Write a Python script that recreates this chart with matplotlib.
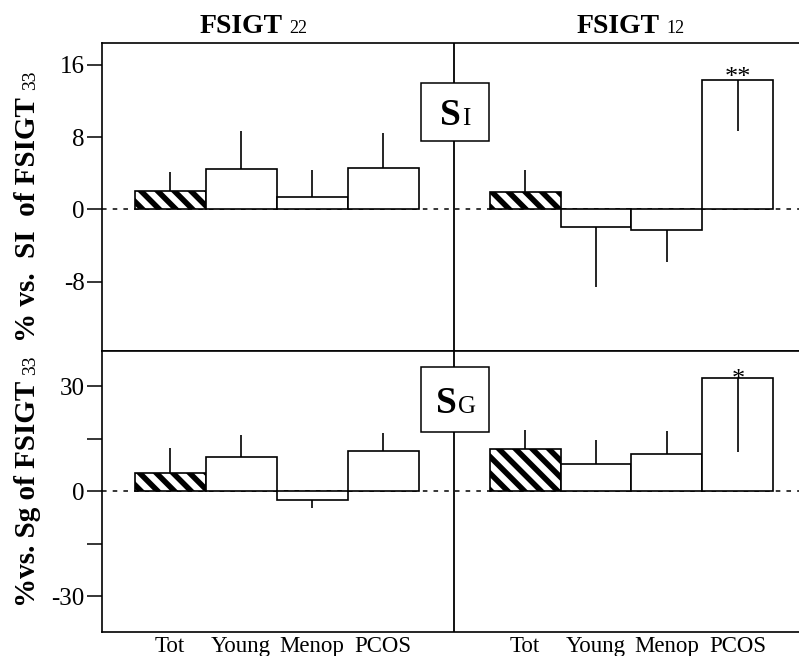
import matplotlib
matplotlib.use("Agg")
import matplotlib.pyplot as plt
from matplotlib.patches import Rectangle
import numpy as np

# ---------------- data ----------------
categories = ["Tot", "Young", "Menop", "PCOS"]
groups = ["FSIGT 22", "FSIGT 12"]

# % vs. SI of FSIGT 33
si_fsigt22 = [2.0, 4.5, 1.4, 4.6]
si_fsigt22_err = [2.1, 4.2, 3.0, 3.9]          # signed: + drawn up, - drawn down
si_fsigt12 = [1.9, -2.0, -2.3, 14.3]
si_fsigt12_err = [2.5, -6.6, -3.5, -5.6]

# % vs. Sg of FSIGT 33
sg_fsigt22 = [5.2, 9.7, -2.6, 11.5]
sg_fsigt22_err = [7.1, 6.3, -2.2, 5.0]
sg_fsigt12 = [12.0, 7.9, 10.7, 32.3]
sg_fsigt12_err = [5.4, 6.8, 6.5, -21.1]

si_signif = ["", "", "", "**"]
sg_signif = ["", "", "", "*"]

si_ticks = [-8, 0, 8, 16]
si_ticklabels = ["-8", "0", "8", "16"]
sg_ticks = [-30, -15, 0, 15, 30]
sg_ticklabels = ["-30", "", "0", "", "30"]

# ---------------- style ----------------
SERIF = "Liberation Serif"
plt.rcParams["font.family"] = SERIF
plt.rcParams["hatch.linewidth"] = 4.0
W, H = 799, 656
fig = plt.figure(figsize=(W / 100, H / 100), dpi=100)
renderer = fig.canvas.get_renderer()


def fx(px):
    return px / W


def fy(py):
    return 1 - py / H


left_px, right_px, top_px, mid_px, bot_px = 102, 799, 43, 350.5, 632
ax_top = fig.add_axes([fx(left_px), fy(mid_px), fx(right_px) - fx(left_px), fy(top_px) - fy(mid_px)])
ax_bot = fig.add_axes([fx(left_px), fy(bot_px), fx(right_px) - fx(left_px), fy(mid_px) - fy(bot_px)])

offset = 5  # second group starts at x = 5
x_left = np.arange(len(categories))
x_right = np.arange(len(categories)) + offset


def draw_panel(ax, left_vals, left_err, right_vals, right_err, signif, ylim, ticks, ticklabels, sig_pad):
    ax.set_xlim(-0.96, 8.86)
    ax.set_ylim(*ylim)
    ax.axhline(0, color="black", lw=1.1, ls=(0, (3, 4)), zorder=1)
    ax.axvline(4.0, color="black", lw=1.3, zorder=1)
    for xs, vals, errs in ((x_left, left_vals, left_err), (x_right, right_vals, right_err)):
        hatches = ["\\\\"] + [None] * (len(xs) - 1)
        for xi, v, e, h in zip(xs, vals, errs, hatches):
            ax.bar(xi, v, width=1.0, facecolor="white", edgecolor="black",
                   linewidth=1.2, hatch=h, zorder=2)
            ax.vlines(xi, v, v + e, color="black", lw=1.2, zorder=3)
    for xi, v, s in zip(x_right, right_vals, signif):
        if s:
            ax.text(xi, v + sig_pad, s, ha="center", va="bottom", fontsize=19, zorder=4)
    ax.set_yticks(ticks)
    ax.set_yticklabels(ticklabels, fontsize=18)
    ax.tick_params(axis="y", length=10.5, width=1.1, pad=2)
    ax.spines["right"].set_visible(False)
    for s in ("left", "top", "bottom"):
        ax.spines[s].set_linewidth(1.2)


draw_panel(ax_top, si_fsigt22, si_fsigt22_err, si_fsigt12, si_fsigt12_err, si_signif,
           (-15.6, 18.4), si_ticks, si_ticklabels, -1.0)
draw_panel(ax_bot, sg_fsigt22, sg_fsigt22_err, sg_fsigt12, sg_fsigt12_err, sg_signif,
           (-40.2, 40.2), sg_ticks, sg_ticklabels, -3.8)

ax_top.set_xticks([])
ax_bot.set_xticks(list(x_left) + list(x_right))
ax_bot.set_xticklabels(categories + categories, fontsize=16.5)
ax_bot.tick_params(axis="x", length=0, pad=3)


# ---------------- mixed-size text helper ----------------
def compose(x_px, y_px, parts, rotation=0):
    """Place text pieces one after the other on a common baseline."""
    pos = 0.0
    for s, size, gap, weight in parts:
        if rotation == 0:
            t = fig.text(fx(x_px + pos), fy(y_px), s, fontsize=size, ha="left",
                         va="baseline", weight=weight)
            bb = t.get_window_extent(renderer)
            pos += bb.width + gap
        else:
            t = fig.text(fx(x_px), fy(y_px - pos), s, fontsize=size, ha="left",
                         va="baseline", rotation=90, rotation_mode="anchor", weight=weight)
            bb = t.get_window_extent(renderer)
            pos += bb.height + gap


# column titles
compose(200, 33, [("FSIGT", 20, 6, "bold"), ("22", 13, 0, "normal")])
compose(577, 33, [("FSIGT", 20, 6, "bold"), ("12", 13, 0, "normal")])

# y labels
compose(35, 342, [("% vs.  SI  of FSIGT", 21, 7, "bold"), ("33", 14, 0, "normal")], rotation=90)
compose(35, 607, [("%vs. Sg of FSIGT", 21, 6, "bold"), ("33", 14, 0, "normal")], rotation=90)


# panel boxes
def panel_box(ax, y0_frac, y1_frac):
    x0 = (421 - left_px) / (right_px - left_px)
    x1 = (489 - left_px) / (right_px - left_px)
    ax.add_patch(Rectangle((x0, y0_frac), x1 - x0, y1_frac - y0_frac, transform=ax.transAxes,
                           facecolor="white", edgecolor="black", lw=1.1, zorder=5))


top_h = mid_px - top_px
bot_h = bot_px - mid_px
panel_box(ax_top, (mid_px - 141) / top_h, (mid_px - 83) / top_h)
panel_box(ax_bot, (bot_px - 432) / bot_h, (bot_px - 367) / bot_h)

for cx, base, small in ((455, 125, "I"), (456, 413, "G")):
    t1 = fig.text(0, 0, "S", fontsize=27, weight="bold")
    t2 = fig.text(0, 0, small, fontsize=18)
    w1 = t1.get_window_extent(renderer).width
    w2 = t2.get_window_extent(renderer).width
    t1.remove(); t2.remove()
    pos = cx - (w1 + w2 + 1) / 2
    fig.text(fx(pos), fy(base), "S", fontsize=27, weight="bold", ha="left", va="baseline", zorder=6)
    fig.text(fx(pos + w1 + 1), fy(base), small, fontsize=18, ha="left", va="baseline", zorder=6)

fig.savefig("out.png", dpi=100)
